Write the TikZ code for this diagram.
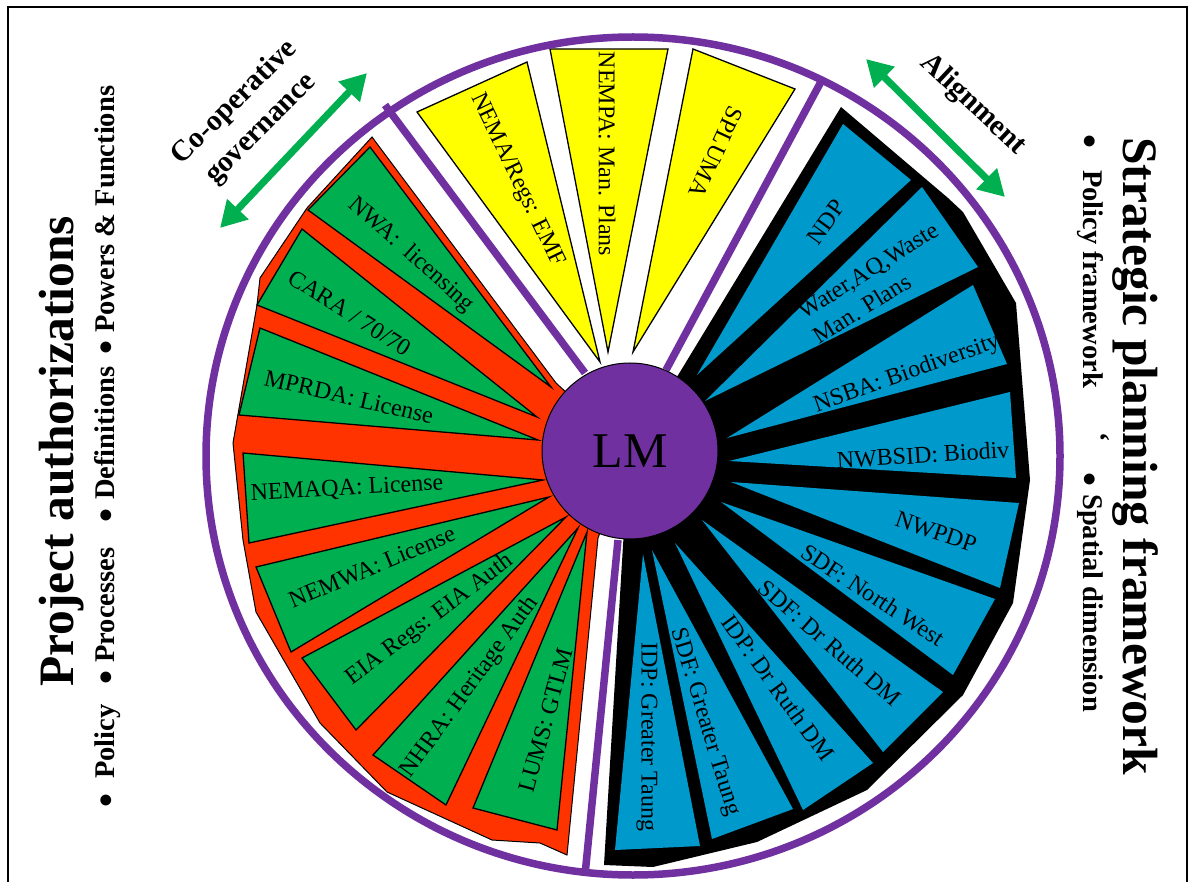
\documentclass[tikz,border=0pt]{standalone}
\usepackage{fontspec}
\setmainfont{Liberation Serif}
\usetikzlibrary{arrows.meta}
\definecolor{lmpurple}{HTML}{7030A0}
\definecolor{authgreen}{HTML}{00B050}
\definecolor{authorange}{HTML}{FF3300}
\definecolor{planblue}{HTML}{0099CC}
\definecolor{lawyellow}{HTML}{FFFF00}
\begin{document}
\begin{tikzpicture}[x=1pt,y=-1pt,
  greenwedge/.style={fill=authgreen,draw=black,line width=1.3pt,line join=miter},
  bluewedge/.style={fill=planblue},
  yellowwedge/.style={fill=lawyellow,draw=black,line width=1.3pt,line join=miter},
  ringline/.style={draw=lmpurple,line width=7.5pt},
  wedgelabel/.style={font=\fontsize{24}{29}\selectfont,inner sep=0pt},
  sidetitle/.style={font=\bfseries\fontsize{49.5}{56}\selectfont,inner sep=0pt},
  sideitem/.style={font=\bfseries\fontsize{28.5}{34}\selectfont,inner sep=0pt},
  sidebullet/.style={font=\bfseries\fontsize{40}{40}\selectfont,inner sep=0pt},
  arrowlabel/.style={font=\bfseries\fontsize{29.5}{37}\selectfont,inner sep=0pt,align=center},
  greenarrow/.style={draw=authgreen,line width=7pt,
    {Triangle[length=26pt,width=28pt]}-{Triangle[length=26pt,width=28pt]}},
  lmhub/.style={circle,fill=lmpurple,draw=black,line width=1pt,minimum size=176pt,
    inner sep=0pt,font=\fontsize{50}{60}\selectfont}]
\useasboundingbox (0,0) rectangle (1191,882);
\fill[white] (0,0) rectangle (1191,882);

% page frame
\draw[line width=2pt] (8,882) -- (8,7) -- (1187,7) -- (1187,882);

% --- project authorizations sector ---
\filldraw[fill=authorange,draw=black,line width=1pt,line join=miter]
  (372,137) -- (307,208) -- (260,278) -- (257,305) -- (233,443) -- (243,540)
  -- (256,612) -- (320,723) -- (387,792) -- (492,840) -- (540,843) -- (567,855)
  -- (598,538) -- (630,451) -- (556,383) -- cycle;
\draw[greenwedge] (370,147) -- (308,210) -- (551,387) -- cycle;
\draw[greenwedge] (302,229) -- (257,305) -- (537,417) -- cycle;
\draw[greenwedge] (260,328) -- (239,415) -- (538,440) -- cycle;
\draw[greenwedge] (243,453) -- (249,543) -- (543,480) -- cycle;
\draw[greenwedge] (256,567) -- (291,652) -- (549,497) -- cycle;
\draw[greenwedge] (302,658) -- (356,730) -- (566,517) -- cycle;
\draw[greenwedge] (373,755) -- (446,805) -- (578,528) -- cycle;
\draw[greenwedge] (473,808) -- (557,830) -- (587,532) -- cycle;

% --- strategic planning sector ---
\fill[black] (841,107) -- (948,198) -- (963,212) -- (1016,303) -- (1030,480)
  -- (1013,603) -- (963,695) -- (867,790) -- (757,842) -- (653,867) -- (604,865)
  -- (623,545) -- (630,451) -- (680,372) -- cycle;
\fill[bluewedge] (843,124) -- (911,180) -- (697,375) -- cycle;
\fill[bluewedge] (922,187) -- (978,267) -- (705,401) -- cycle;
\fill[bluewedge] (973,285) -- (1007,364) -- (727,438) -- cycle;
\fill[bluewedge] (1010,392) -- (1016,478) -- (729,461) -- cycle;
\fill[bluewedge] (1019,503) -- (1000,588) -- (731,482) -- cycle;
\fill[bluewedge] (995,599) -- (953,675) -- (721,502) -- cycle;
\fill[bluewedge] (943,692) -- (883,752) -- (702,520) -- cycle;
\fill[bluewedge] (873,763) -- (803,810) -- (675,543) -- cycle;
\fill[bluewedge] (793,809) -- (712,839) -- (652,550) -- cycle;
\fill[bluewedge] (700,846) -- (615,850) -- (643,554) -- cycle;

% --- environmental management sector ---
\draw[yellowwedge] (417,112) -- (527,62) -- (600,362) -- cycle;
\draw[yellowwedge] (550,49) -- (668,49) -- (608,352) -- cycle;
\draw[yellowwedge] (693,49) -- (795,89) -- (633,352) -- cycle;

% outer ring and sector dividers
\draw[ringline] (633,456) ellipse [x radius=427, y radius=419];
\draw[ringline] (385,105) -- (585,373);
\draw[ringline] (823,78) -- (666,370);
\draw[ringline] (618,540) -- (585,875);

% hub
\node[lmhub] (lm) at (630,451) {LM};

% wedge labels, left sector
\node[wedgelabel,rotate=-41.7] (nwa) at (411,255) {NWA:\ \ licensing};
\node[wedgelabel,rotate=-32.4] (cara) at (350,313) {CARA / 70/70};
\node[wedgelabel,rotate=-13] (mprda) at (349,397) {MPRDA: License};
\node[wedgelabel,rotate=3] (nemaqa) at (347,489) {NEMAQA: License};
\node[wedgelabel,rotate=22.8] (nemwa) at (372,567) {NEMWA: License};
\node[wedgelabel,rotate=37] (eia) at (430,620) {EIA Regs: EIA Auth};
\node[wedgelabel,rotate=54] (nhra) at (470,687) {NHRA: Heritage Auth};
\node[wedgelabel,rotate=74.6] (lums) at (546,720) {LUMS: GTLM};

% wedge labels, right sector
\node[wedgelabel,rotate=54] (ndp) at (826,222) {NDP};
\node[wedgelabel,rotate=32,align=left] (wmp) at (876,283) {Water,AQ,Waste\\Man. Plans};
\node[wedgelabel,rotate=19.6] (nsba) at (907,374) {NSBA: Biodiversity};
\node[wedgelabel,rotate=3.5] (nwbsid) at (923,455) {NWBSID: Biodiv};
\node[wedgelabel,rotate=-19] (nwpdp) at (936,532) {NWPDP};
\node[wedgelabel,rotate=-33.3] (sdfnw) at (873,595) {SDF: North West};
\node[wedgelabel,rotate=-41] (sdfdr) at (830,643) {SDF: Dr Ruth DM};
\node[wedgelabel,rotate=-54] (idpdr) at (778,688) {IDP: Dr Ruth DM};
\node[wedgelabel,rotate=-73] (sdfgt) at (705,722) {SDF: Greater Taung};
\node[wedgelabel,rotate=-90] (idpgt) at (647,737) {IDP: Greater Taung};

% wedge labels, top sector
\node[wedgelabel,rotate=-64.2] (nemaregs) at (517,180) {NEMA/Regs: EMF};
\node[wedgelabel,rotate=-90] (nempa) at (607,154) {NEMPA: Man. Plans};
\node[wedgelabel,rotate=-115] (spluma) at (716,152) {SPLUMA};

% relationship arrows
\coordinate (cgA) at (220,228);
\coordinate (cgB) at (367,73);
\coordinate (alA) at (866,59);
\coordinate (alB) at (1005,197);
\draw[greenarrow] (cgA) -- (cgB);
\draw[greenarrow] (alA) -- (alB);
\node[arrowlabel,rotate=45] (coop) at (248,116) {Co-operative\\governance};
\node[arrowlabel,rotate=-43.2] (align) at (973,105) {Alignment};

% left side headings
\node[sidetitle,rotate=90,anchor=base west] (projauth) at (73,687) {Project authorizations};
\node[sidebullet,rotate=90,anchor=base] (bpol) at (119,800) {•};
\node[sideitem,rotate=90,anchor=base west] (tpol) at (114,779) {Policy};
\node[sidebullet,rotate=90,anchor=base] (bproc) at (119,677) {•};
\node[sideitem,rotate=90,anchor=base west] (tproc) at (114,663) {Processes};
\node[sidebullet,rotate=90,anchor=base] (bdef) at (119,515) {•};
\node[sideitem,rotate=90,anchor=base west] (tdef) at (114,500) {Definitions};
\node[sidebullet,rotate=90,anchor=base] (bpow) at (119,347) {•};
\node[sideitem,rotate=90,anchor=base west] (tpow) at (114,333) {Powers \& Functions};

% right side headings
\node[sidetitle,rotate=-90,anchor=base west] (stratplan) at (1123,137) {Strategic planning framework};
\node[sidebullet,rotate=-90,anchor=base] (bpf) at (1076,142) {•};
\node[sideitem,rotate=-90,anchor=base west] (tpf) at (1083,170) {Policy framework};
\node[sideitem,rotate=-90] (tick) at (1100,437) {`};
\node[sidebullet,rotate=-90,anchor=base] (bsd) at (1076,480) {•};
\node[sideitem,rotate=-90,anchor=base west] (tsd) at (1083,494) {Spatial dimension};
\end{tikzpicture}
\end{document}
